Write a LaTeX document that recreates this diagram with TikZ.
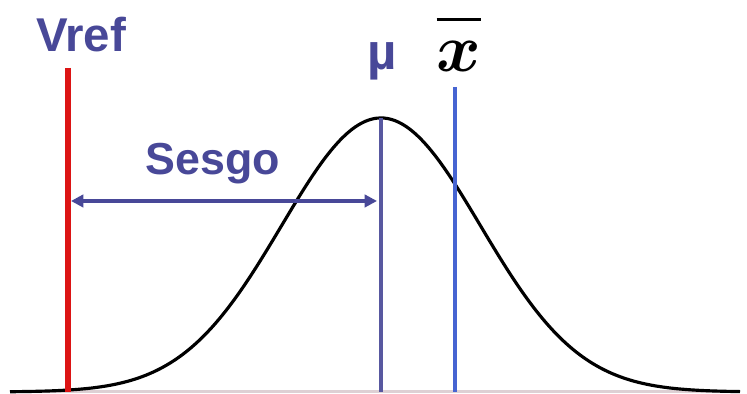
\documentclass[tikz,border=0pt]{standalone}
\usepackage{amsmath}
\usepackage{fontspec}
\setmainfont{Liberation Sans}
\usetikzlibrary{arrows.meta,positioning}
\definecolor{labelblue}{RGB}{72,72,152}
\definecolor{meanline}{RGB}{88,88,160}
\definecolor{xbarline}{RGB}{70,100,210}
\definecolor{refred}{RGB}{220,20,20}
\definecolor{axisgray}{RGB}{222,208,212}

\begin{document}
\begin{tikzpicture}[
    x=0.02cm, y=0.02cm,
    biglabel/.style={font=\bfseries\fontsize{27}{30}\selectfont, text=labelblue, inner sep=0pt, anchor=base},
    vline/.style={line width=2.2pt},
    arr/.style={{Triangle[length=7pt,width=7pt]}-{Triangle[length=7pt,width=7pt]}, line width=2pt, labelblue},
    bell/.style={black, line width=1.8pt}
]
\useasboundingbox[fill=white] (0,0) rectangle (747,394);
\draw[axisgray, line width=1.7pt] (10,2) -- (740,2);
\draw[bell] plot[domain=10:740, samples=200, smooth] (\x, {2+274*exp(-0.5*((\x-381)/99.5)^2)});
\coordinate (vreftop) at (68,326);
\coordinate (vrefbot) at (68,2);
\coordinate (mutop) at (381,276);
\coordinate (mubot) at (381,2);
\coordinate (xbartop) at (455,307);
\coordinate (xbarbot) at (455,2);
\coordinate (sesgoleft) at (71,193);
\coordinate (sesgoright) at (377,193);
\node[biglabel] (vref) at (81,342) {Vref};
\node[biglabel, font=\bfseries\fontsize{29}{31}\selectfont] (mu) at (382,324) {\char"00B5};
\node[inner sep=0pt, anchor=base, font=\fontsize{24.88}{28}\selectfont] (xbar) at (459,322) {\scalebox{1.55}{$\boldsymbol{\overline{\vphantom{t}x}}$}};
\node[biglabel, font=\bfseries\fontsize{25.5}{28}\selectfont] (sesgo) at (213,219) {Sesgo};
\draw[vline, refred, line width=3.4pt] (vreftop) -- (vrefbot);
\draw[vline, meanline] (mutop) -- (mubot);
\draw[vline, xbarline, line width=2.4pt] (xbartop) -- (xbarbot);
\draw[arr] (sesgoleft) -- (sesgoright);
\end{tikzpicture}
\end{document}
